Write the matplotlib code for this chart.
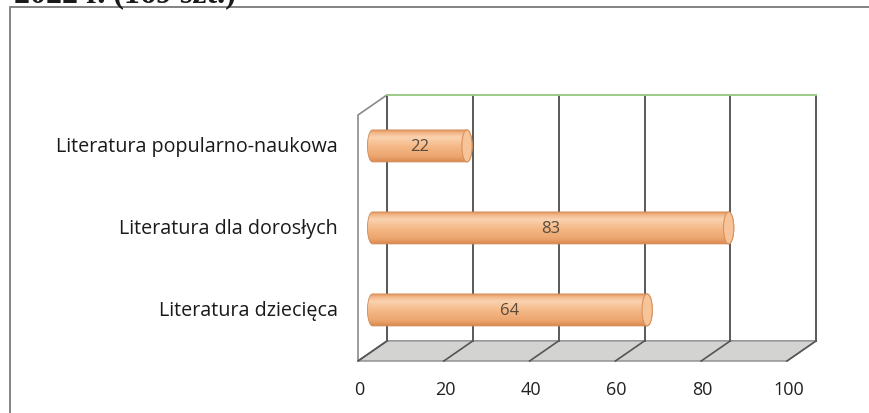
import numpy as np
import matplotlib
matplotlib.use("Agg")
import matplotlib.pyplot as plt
from matplotlib.patches import Polygon, Ellipse, Rectangle
from matplotlib.colors import LinearSegmentedColormap

# dane
categories = ["Literatura dziecięca", "Literatura dla dorosłych", "Literatura popularno-naukowa"]
values = [64, 83, 22]
ticks = [0, 20, 40, 60, 80, 100]
title_text = "2022 r. (169 szt.)"

plt.rcParams['font.family'] = ['Open Sans', 'DejaVu Sans']

W, H = 870, 414
fig = plt.figure(figsize=(W / 100, H / 100), dpi=100)

# ramka wokół wykresu
fig.patches.append(Rectangle((10 / W, -0.1), 1.0, 1.1 - 8 / H, transform=fig.transFigure,
                             fill=False, edgecolor='#7a7a7a', linewidth=1.3))
fig.text(14 / W, 1 - 2 / H, title_text, fontsize=23, fontweight='bold',
         family='Liberation Serif', color='#1a1a1a', va='baseline', ha='left')

# osie: x = wartości (płaszczyzna przednia), y = wysokość ściany (0..1)
ax = fig.add_axes([358 / W, 52 / H, 429 / W, 246 / H])
ax.set_xlim(0, 100)
ax.set_ylim(0, 1)
ax.set_axis_off()

DX, DY = 6.8, 0.082   # przesunięcie głębi 3D
XMAX = 100

# podłoga
ax.add_patch(Polygon([(0, 0), (XMAX, 0), (XMAX + DX, DY), (DX, DY)], closed=True,
                     facecolor='#d3d3d1', edgecolor='#8a8a8a', linewidth=1.0, clip_on=False, zorder=1))
for t in ticks:
    ax.plot([t, t + DX], [0, DY], color='#555555', lw=1.2, clip_on=False, zorder=2)
# ściana lewa
ax.add_patch(Polygon([(0, 0), (0, 1), (DX, 1 + DY), (DX, DY)], closed=True,
                     facecolor='white', edgecolor='#8a8a8a', linewidth=1.2, clip_on=False, zorder=1))
# ściana tylna + siatka
for t in ticks:
    ax.plot([t + DX, t + DX], [DY, 1 + DY], color='#5a5a5a', lw=1.4, clip_on=False, zorder=2)
ax.plot([DX, XMAX + DX], [1 + DY, 1 + DY], color='#9cc98a', lw=1.4, clip_on=False, zorder=2)

# etykiety osi x
for t in ticks:
    ax.text(t + 0.3, -0.115, str(t), ha='center', va='center', fontsize=13, color='#222222')

# walce
cmap = LinearSegmentedColormap.from_list('cyl', [
    (0.0, '#d9894f'), (0.15, '#eba36d'), (0.5, '#f5ba88'),
    (0.78, '#fad3b1'), (0.92, '#f2b688'), (1.0, '#e39a62')])
grad = np.linspace(0, 1, 64).reshape(-1, 1)

n = len(categories)
bar_h = 0.13
cap_w = 1.2
for i, (cat, v) in enumerate(zip(categories, values)):
    yc = (i + 0.5) / n + DY / 2
    x0 = DX / 2
    x1 = v + DX / 2
    th = np.linspace(-np.pi / 2, np.pi / 2, 40)
    right = np.column_stack([x1 + cap_w * np.cos(th), yc + bar_h / 2 * np.sin(th)])
    th2 = np.linspace(np.pi / 2, 3 * np.pi / 2, 40)
    left = np.column_stack([x0 + cap_w * np.cos(th2), yc + bar_h / 2 * np.sin(th2)])
    body = Polygon(np.vstack([right, left]), closed=True, facecolor='none',
                   edgecolor='#d08a55', linewidth=0.6, zorder=5)
    ax.add_patch(body)
    im = ax.imshow(grad, cmap=cmap, aspect='auto', origin='lower',
                   extent=[x0 - cap_w, x1 + cap_w, yc - bar_h / 2, yc + bar_h / 2], zorder=4)
    im.set_clip_path(body)
    cap = Ellipse((x1, yc), 2 * cap_w, bar_h, facecolor='#f7c49a', edgecolor='#d9925c',
                  linewidth=0.8, zorder=6)
    ax.add_patch(cap)
    ax.text((x0 + x1) / 2, yc, str(v), ha='center', va='center', fontsize=12,
            color='#5b4a3c', zorder=7)
    ax.text(-4.7, yc, cat, ha='right', va='center', fontsize=14.2, color='#1a1a1a')

ax.set_xlim(0, 100)
ax.set_ylim(0, 1)

fig.savefig("out.png", dpi=100)
